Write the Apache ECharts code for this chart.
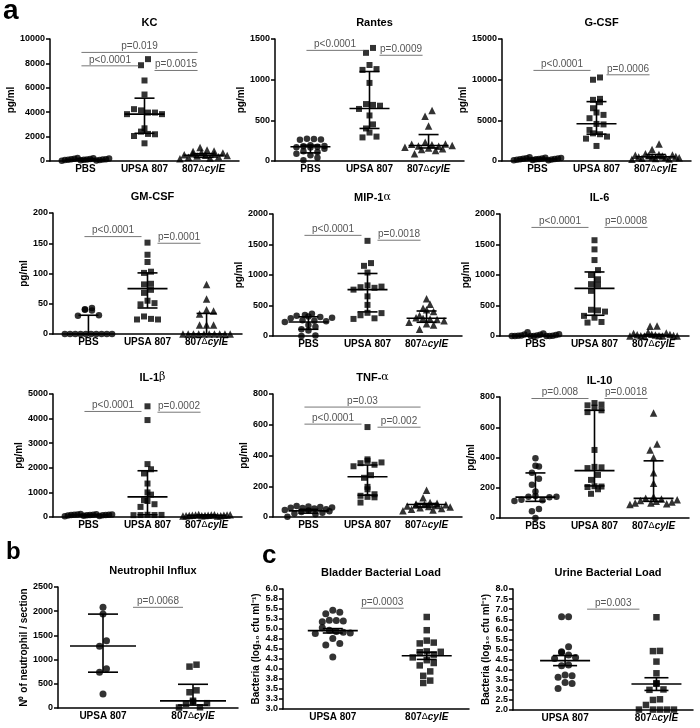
<!DOCTYPE html>
<html lang="en" style="height: 100%">
<head>
  <meta charset="utf-8">
</head>
<body style="height: 100%; margin: 0; background: #fff">
<div id="container" style="width: 700px; height: 728px"></div>
<script type="text/javascript" src="https://cdn.jsdelivr.net/npm/echarts@6/dist/echarts.min.js"></script>
<script type="text/javascript">
  // ---- data ----
  const cats3 = ['PBS', 'UPSA 807', '807{d|Δ}{i|cylE}'];
  const cats2 = ['UPSA 807', '807{d|Δ}{i|cylE}'];

  // KC
  const kcPBS = [250, 220, 200, 180, 160, 150, 140, 130, 120, 110, 100, 90, 80, 60, 50, 30];
  const kcUPSA = [8350, 7850, 6600, 5450, 4250, 4150, 3970, 3840, 3840, 3970, 2680, 2410, 2220, 2190, 2050, 1450];
  const kcMut = [1100, 900, 820, 780, 700, 650, 600, 560, 520, 480, 450, 400, 350, 300, 250, 180];
  const kcStats = [[120, 60, 200], [3840, 2270, 5150], [460, 300, 600]];
  const kcP = [[0, 2, 8900, 'p=0.019'], [0, 1, 7800, 'p<0.0001'], [1, 2, 7420, 'p=0.0015']];

  // Rantes
  const rPBS = [275, 270, 265, 260, 195, 185, 180, 175, 170, 165, 150, 120, 110, 90, 70, 40, 10];
  const rUPSA = [1390, 1330, 1180, 1130, 1120, 960, 700, 690, 680, 640, 560, 450, 400, 350, 300, 290];
  const rMut = [620, 550, 430, 230, 210, 205, 200, 190, 185, 180, 170, 160, 150, 140, 130, 90];
  const rStats = [[175, 100, 195], [645, 400, 1100], [190, 160, 325]];
  const rP = [[0, 1, 1360, 'p<0.0001'], [1, 2, 1300, 'p=0.0009']];

  // G-CSF
  const gPBS = [450, 400, 380, 350, 320, 300, 280, 260, 250, 230, 200, 180, 150, 120, 100, 80];
  const gUPSA = [10270, 9990, 7640, 7520, 7230, 6490, 5960, 5670, 5260, 4560, 4500, 3820, 3400, 3290, 3000, 2750, 1850];
  const gMut = [2100, 1400, 900, 800, 750, 700, 650, 600, 550, 500, 480, 450, 400, 350, 300, 250, 200];
  const gStats = [[250, 150, 350], [4580, 3300, 7300], [520, 380, 800]];
  const gP = [[0, 1, 11140, 'p<0.0001'], [1, 2, 10600, 'p=0.0006']];

  // GM-CSF
  const gmPBS = [43, 41, 40, 39, 31, 30, 0, 0, 0, 0, 0, 0, 0, 0, 0, 0];
  const gmUPSA = [151, 131, 119, 103, 101, 83, 82, 73, 68, 55, 51, 49, 29, 24, 25, 24];
  const gmMut = [82, 58, 40, 38, 33, 15, 15, 15, 0, 0, 0, 0, 0, 0, 0, 0, 0, 0];
  const gmStats = [[0, 0, 31], [75, 43, 101], [0, 0, 34]];
  const gmP = [[0, 1, 161, 'p<0.0001'], [1, 2, 150, 'p=0.0001']];

  // MIP-1a
  const mPBS = [365, 345, 330, 320, 310, 300, 290, 260, 250, 240, 230, 180, 150, 110, 90, 10, 0];
  const mUPSA = [1560, 1195, 1150, 1040, 830, 810, 800, 790, 760, 650, 510, 380, 375, 340, 290, 280];
  const mMut = [610, 520, 455, 430, 400, 335, 300, 290, 280, 270, 250, 225, 200, 180, 110];
  const mStats = [[230, 110, 315], [760, 395, 1025], [290, 225, 410]];
  const mP = [[0, 1, 1650, 'p<0.0001'], [1, 2, 1570, 'p=0.0018']];

  // IL-6
  const i6PBS = [60, 40, 30, 25, 20, 15, 10, 10, 5, 5, 0, 0, 0, 0, 0, 0];
  const i6UPSA = [1570, 1420, 1245, 1080, 1000, 930, 850, 840, 740, 430, 420, 400, 330, 300, 230, 220];
  const i6Mut = [165, 160, 60, 50, 40, 30, 25, 20, 15, 10, 5, 5, 0, 0, 0, 0];
  const i6Stats = [[0, 0, 10], [780, 340, 1050], [10, 0, 25]];
  const i6P = [[0, 1, 1780, 'p<0.0001'], [1, 2, 1780, 'p=0.0008']];

  // IL-1b
  const i1PBS = [120, 110, 100, 100, 95, 90, 90, 85, 80, 80, 75, 70, 60, 50, 40, 30];
  const i1UPSA = [4500, 3940, 2150, 1940, 1770, 1360, 1000, 910, 680, 650, 520, 410, 90, 85, 80, 80, 75];
  const i1Mut = [100, 95, 90, 85, 80, 80, 75, 70, 70, 65, 60, 55, 50, 50, 45, 40];
  const i1Stats = [[80, 60, 100], [820, 90, 1880], [70, 50, 85]];
  const i1P = [[0, 1, 4290, 'p<0.0001'], [1, 2, 4260, 'p=0.0002']];

  // TNF-a
  const tPBS = [72, 68, 65, 62, 60, 58, 55, 50, 45, 42, 38, 32, 28, 22, 18, 2];
  const tUPSA = [585, 375, 365, 355, 350, 340, 330, 272, 255, 196, 180, 148, 138, 131, 128, 94];
  const tMut = [174, 126, 95, 90, 85, 82, 80, 78, 75, 72, 68, 65, 60, 55, 50, 45, 40];
  const tStats = [[40, 25, 50], [262, 142, 338], [81, 65, 88]];
  const tP = [[0, 2, 715, 'p=0.03'], [0, 1, 604, 'p<0.0001'], [1, 2, 584, 'p=0.002']];

  // IL-10
  const i10PBS = [395, 345, 340, 300, 260, 220, 175, 145, 140, 140, 138, 120, 118, 112, 60, 45, 0];
  const i10UPSA = [760, 750, 745, 730, 712, 700, 450, 338, 335, 330, 285, 252, 210, 208, 205, 190, 160];
  const i10Mut = [695, 490, 450, 400, 300, 230, 140, 130, 125, 120, 115, 110, 105, 100, 100, 95, 90];
  const i10Stats = [[138, 110, 298], [313, 212, 712], [130, 110, 378]];
  const i10P = [[0, 1, 790, 'p=0.008'], [1, 2, 790, 'p=0.0018']];

  // Neutrophil influx (b)
  const nUPSA = [2080, 1940, 1390, 1275, 810, 740, 290];
  const nMut = [895, 855, 365, 325, 150, 125, 100, 85, 15, 10];
  const nStats = [[1280, 740, 1940], [148, 60, 490]];
  const nP = [[0, 1, 2080, 'p=0.0068']];

  // Bladder bacterial load (c)
  const bUPSA = [5.47, 5.42, 5.38, 5.22, 5.20, 5.18, 5.21, 5.03, 4.97, 4.94, 4.92, 4.90, 4.89, 4.76, 4.64, 4.60, 4.30];
  const bMut = [5.30, 4.97, 4.71, 4.66, 4.64, 4.44, 4.43, 4.42, 4.36, 4.29, 4.22, 4.15, 4.09, 3.94, 3.83, 3.71, 3.65];
  const bStats = [[4.96, 4.90, 5.01], [4.33, 4.24, 4.42]];
  const bP = [[0, 1, 5.52, 'p=0.0003']];

  // Urine bacterial load (c)
  const uUPSA = [6.63, 6.63, 5.14, 4.89, 4.85, 4.73, 4.60, 4.55, 4.23, 4.20, 3.74, 3.70, 3.62, 3.36, 3.32, 3.07];
  const uMut = [6.60, 4.93, 4.92, 4.40, 3.82, 3.33, 3.30, 3.02, 3.00, 2.53, 2.50, 2.25, 2.02, 2.02, 2.02, 2.02, 2.02];
  const uStats = [[4.45, 4.20, 4.70], [3.29, 2.97, 3.60]];
  const uP = [[0, 1, 7.0, 'p=0.003']];

  // ---- layout ----
  const FONT = 'Arial, "Liberation Sans", sans-serif';
  const row = { w: 189, xMin: -0.6, xMax: 2.6, yMin: 0, bar: [20, 10], ins: [-4, 10, -6], name: 'pg/ml' };
  const panels = [
    Object.assign({}, row, { title: 'KC', groups: [kcPBS, kcUPSA, kcMut], stats: kcStats, p: kcP, yMax: 10000, step: 2000, left: 50, top: 39, h: 122, gap: 31 }),
    Object.assign({}, row, { title: 'Rantes', groups: [rPBS, rUPSA, rMut], stats: rStats, p: rP, yMax: 1500, step: 500, left: 275, top: 39, h: 122, gap: 27 }),
    Object.assign({}, row, { title: 'G-CSF', groups: [gPBS, gUPSA, gMut], stats: gStats, p: gP, yMax: 15000, step: 5000, left: 502, top: 39, h: 122, gap: 30 }),
    Object.assign({}, row, { title: 'GM-CSF', groups: [gmPBS, gmUPSA, gmMut], stats: gmStats, p: gmP, yMax: 200, step: 50, left: 53, top: 213, h: 121, gap: 17 }),
    Object.assign({}, row, { title: 'MIP-1{g|α}', groups: [mPBS, mUPSA, mMut], stats: mStats, p: mP, yMax: 2000, step: 500, left: 273, top: 214, h: 122, gap: 25 }),
    Object.assign({}, row, { title: 'IL-6', groups: [i6PBS, i6UPSA, i6Mut], stats: i6Stats, p: i6P, yMax: 2000, step: 500, left: 500, top: 214, h: 122, gap: 25 }),
    Object.assign({}, row, { title: 'IL-1{g|β}', groups: [i1PBS, i1UPSA, i1Mut], stats: i1Stats, p: i1P, yMax: 5000, step: 1000, left: 53, top: 394, h: 123, gap: 26 }),
    Object.assign({}, row, { title: 'TNF-{g|α}', groups: [tPBS, tUPSA, tMut], stats: tStats, p: tP, yMax: 800, step: 200, left: 273, top: 394, h: 123, gap: 21 }),
    Object.assign({}, row, { title: 'IL-10', groups: [i10PBS, i10UPSA, i10Mut], stats: i10Stats, p: i10P, yMax: 800, step: 200, left: 500, top: 397, h: 121, gap: 20 }),
    { title: 'Neutrophil Influx', groups: [nUPSA, nMut], stats: nStats, p: nP, yMin: 0, yMax: 2500, step: 500,
      left: 58, top: 587, w: 180, h: 121, xMin: -0.5, xMax: 1.5, bar: [33, 15], ins: [30, 0, -10], name: 'N⁰ of neutrophil / section', gap: 26 },
    { title: 'Bladder Bacterial Load', groups: [bUPSA, bMut], stats: bStats, p: bP, yMin: 3, yMax: 6, step: 0.25, dec: true,
      left: 283, top: 589, w: 186, h: 120, xMin: -0.53, xMax: 1.45, bar: [25, 10], ins: [28, 0, -23], name: 'Bacteria (log₁₀ cfu ml⁻¹)', gap: 21 },
    { title: 'Urine Bacterial Load', groups: [uUPSA, uMut], stats: uStats, p: uP, yMin: 2, yMax: 8, step: 0.5, dec: true,
      left: 513, top: 589, w: 180, h: 121, xMin: -0.57, xMax: 1.4, bar: [25, 12], ins: [22, 0, -17], name: 'Bacteria (log₁₀ cfu ml⁻¹)', gap: 21 }
  ];

  const SYMS = ['circle', 'rect', 'triangle'];
  const SIZE = { circle: 6.5, rect: 6, triangle: 7.5 };

  function gcd(a, b) { return b ? gcd(b, a % b) : a; }

  // spread points that sit at about the same height side by side (column scatter)
  function swarm(vals, pan) {
    const unit = pan.w / (pan.xMax - pan.xMin);
    const dy = 6.5 * (pan.yMax - pan.yMin) / pan.h;
    const order = vals.map((v, i) => i).sort((a, b) => vals[a] - vals[b]);
    const off = [];
    let rowPts = [];
    const flush = () => {
      const n = rowPts.length;
      let step = 7 / unit;
      if ((n - 1) * step > 0.8) step = 0.8 / (n - 1);
      // mix the slots so a row does not slope with the values
      let s = Math.max(1, Math.round(n * 0.618));
      while (n > 1 && gcd(s, n) !== 1) s++;
      rowPts.forEach((k, j) => {
        const slot = (j * s) % n;
        off[k] = (slot - (n - 1) / 2) * step;
      });
      rowPts = [];
    };
    order.forEach(k => {
      if (rowPts.length && vals[k] - vals[rowPts[0]] > dy) flush();
      rowPts.push(k);
    });
    flush();
    return off;
  }

  function barRender(pan) {
    return function (params, api) {
      const x = api.value(0);
      const m = api.coord([x, api.value(1)]);
      const lo = api.coord([x, api.value(2)]);
      const hi = api.coord([x, api.value(3)]);
      const st = { stroke: '#000', lineWidth: 1.6 };
      const hm = pan.bar[0], hc = pan.bar[1];
      return {
        type: 'group',
        children: [
          { type: 'line', shape: { x1: lo[0], y1: lo[1], x2: hi[0], y2: hi[1] }, style: st },
          { type: 'line', shape: { x1: m[0] - hm, y1: m[1], x2: m[0] + hm, y2: m[1] }, style: st },
          { type: 'line', shape: { x1: lo[0] - hc, y1: lo[1], x2: lo[0] + hc, y2: lo[1] }, style: st },
          { type: 'line', shape: { x1: hi[0] - hc, y1: hi[1], x2: hi[0] + hc, y2: hi[1] }, style: st }
        ]
      };
    };
  }

  function bracketRender(pan) {
    return function (params, api) {
      const b = pan.p[params.dataIndex];
      const a = api.coord([b[0], b[2]]);
      const c = api.coord([b[1], b[2]]);
      const x1 = a[0] + (b[0] === 0 ? pan.ins[0] : pan.ins[1]);
      const x2 = c[0] + pan.ins[2];
      return {
        type: 'group',
        children: [
          { type: 'line', shape: { x1: x1, y1: a[1], x2: x2, y2: a[1] }, style: { stroke: '#777', lineWidth: 1 } },
          { type: 'text', x: (x1 + x2) / 2, y: a[1] - 1,
            style: { text: b[3], fill: '#555', font: '10px ' + FONT, align: 'center', verticalAlign: 'bottom' } }
        ]
      };
    };
  }

  const grid = [], xAxis = [], yAxis = [], series = [], title = [];
  const catRich = {
    d: { fontSize: 9, fontWeight: 'normal', fontFamily: FONT, color: '#000' },
    i: { fontSize: 10, fontWeight: 'bold', fontStyle: 'italic', fontFamily: FONT, color: '#000' }
  };

  panels.forEach((pan, k) => {
    const names = pan.groups.length === 3 ? cats3 : cats2;
    grid.push({ left: pan.left, top: pan.top, width: pan.w, height: pan.h, outerBoundsMode: 'none' });
    title.push({
      text: pan.title, left: pan.left + pan.w / 2, top: pan.top - 27, textAlign: 'center',
      textStyle: {
        fontSize: 11, fontWeight: 'bold', fontFamily: FONT, color: '#000',
        rich: { g: { fontSize: 11, fontWeight: 'normal', fontFamily: '"DejaVu Serif", serif', color: '#000' } }
      }
    });
    xAxis.push({
      type: 'value', gridIndex: k, min: pan.xMin, max: pan.xMax,
      axisLine: { onZero: false, lineStyle: { color: '#000', width: 1.5 } },
      axisTick: { show: false },
      splitLine: { show: false },
      axisLabel: {
        customValues: names.map((n, i) => i),
        formatter: v => names[Math.round(v)],
        color: '#000', fontSize: 10, fontWeight: 'bold', fontFamily: FONT, margin: 3, rich: catRich
      }
    });
    yAxis.push({
      type: 'value', gridIndex: k, min: pan.yMin, max: pan.yMax, interval: pan.step,
      axisLine: { show: true, onZero: false, lineStyle: { color: '#000', width: 1.5 } },
      axisTick: { show: true, length: 4, lineStyle: { color: '#000', width: 1.5 } },
      splitLine: { show: false },
      axisLabel: {
        formatter: v => pan.dec ? v.toFixed(1) : String(v),
        color: '#000', fontSize: 9, fontWeight: 'bold', fontFamily: FONT, margin: 5
      },
      name: pan.name, nameLocation: 'middle', nameRotate: 90, nameGap: pan.gap,
      nameTextStyle: { color: '#000', fontSize: 10, fontWeight: 'bold', fontFamily: FONT }
    });

    pan.groups.forEach((vals, gi) => {
      const off = swarm(vals, pan);
      const sym = SYMS[gi % 3];
      series.push({
        type: 'scatter', xAxisIndex: k, yAxisIndex: k, clip: false, silent: true,
        symbol: sym, symbolSize: pan.groups.length === 2 ? SIZE[sym] + 0.5 : SIZE[sym],
        itemStyle: { color: '#000' },
        data: vals.map((v, i) => [gi + off[i], v])
      });
    });

    series.push({
      type: 'custom', xAxisIndex: k, yAxisIndex: k, clip: false, silent: true, z: 3,
      renderItem: barRender(pan),
      encode: { x: 0, y: [1, 2, 3] },
      data: pan.stats.map((s, i) => [i, s[0], s[1], s[2]])
    });
    series.push({
      type: 'custom', xAxisIndex: k, yAxisIndex: k, clip: false, silent: true, z: 3,
      renderItem: bracketRender(pan),
      encode: { x: [0, 1], y: 2 },
      data: pan.p.map(b => [b[0], b[1], b[2]])
    });
  });

  const dom = document.getElementById('container');
  const myChart = echarts.init(dom, null, { renderer: 'canvas' });
  const option = {
    backgroundColor: '#fff',
    animation: false,
    title: title,
    grid: grid,
    xAxis: xAxis,
    yAxis: yAxis,
    series: series,
    graphic: [
      { type: 'text', left: 3, top: -3, style: { text: 'a', font: 'bold 28px ' + FONT, fill: '#000' } },
      { type: 'text', left: 6, top: 540, style: { text: 'b', font: 'bold 24px ' + FONT, fill: '#000' } },
      { type: 'text', left: 262, top: 543, style: { text: 'c', font: 'bold 26px ' + FONT, fill: '#000' } }
    ]
  };
  myChart.setOption(option);
  window.addEventListener('resize', myChart.resize);
</script>
</body>
</html>
